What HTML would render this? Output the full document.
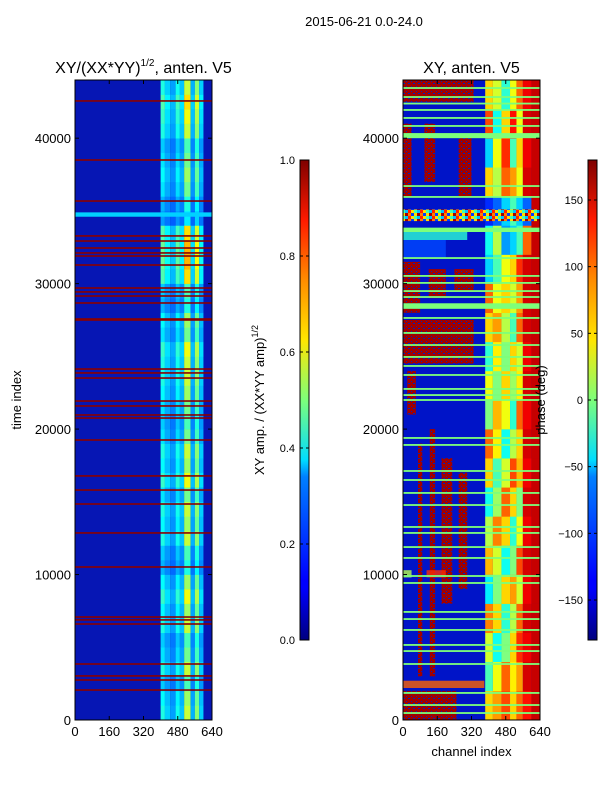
<!DOCTYPE html>
<html><head><meta charset="utf-8"><style>
body{margin:0;background:#fff;}
svg text{font-family:"Liberation Sans","DejaVu Sans",sans-serif;fill:#000;}
</style></head><body>
<svg id="fig" width="600" height="800" xmlns="http://www.w3.org/2000/svg">
<defs>
<linearGradient id="jetv" x1="0" y1="1" x2="0" y2="0">
<stop offset="0" stop-color="#00007f"/><stop offset="0.11" stop-color="#0000ff"/><stop offset="0.125" stop-color="#0000ff"/>
<stop offset="0.34" stop-color="#0080ff"/><stop offset="0.375" stop-color="#00ddff"/><stop offset="0.5" stop-color="#7dff7a"/>
<stop offset="0.625" stop-color="#ffe600"/><stop offset="0.75" stop-color="#ff8c00"/><stop offset="0.875" stop-color="#ff1a00"/><stop offset="1" stop-color="#7f0000"/>
</linearGradient>
<pattern id="noise" width="12" height="6" patternUnits="userSpaceOnUse">
<rect width="12" height="6" fill="#ffdd00"/><rect x="0" y="0" width="3" height="3" fill="#ff2000"/><rect x="3" y="3" width="3" height="3" fill="#0040ff"/>
<rect x="6" y="0" width="3" height="3" fill="#40ffb0"/><rect x="9" y="3" width="3" height="3" fill="#a00000"/><rect x="9" y="0" width="3" height="3" fill="#00c0ff"/><rect x="0" y="3" width="3" height="3" fill="#ff8000"/>
</pattern>
<pattern id="speck" width="5" height="5" patternUnits="userSpaceOnUse">
<rect width="5" height="5" fill="#a00000"/><rect x="1" y="1" width="1" height="1" fill="#0020c0"/><rect x="3" y="3" width="2" height="1" fill="#0020c0"/>
</pattern>
</defs>
<text x="364" y="26" font-size="13" text-anchor="middle">2015-06-21 0.0-24.0</text>
<g id="left"></g>
<g id="right"></g>
<g id="axes"></g>
</svg>
<script>
const NS="http://www.w3.org/2000/svg";
// ---- data ----
const leftColEdges=[400,420,445,470,490,510,540,560,580,600];
const leftColVals=[0.42,0.3,0.22,0.4,0.28,0.7,0.25,0.6,0.3];
const leftRowMul=[1.0,0.9,0.7,1.0,0.8,0.7,1.0,0.9,1.1,0.9,0.6,0.7,1.0,0.9,1.0,0.8,1.1,0.9,1.0,0.8,0.7,0.8,0.9,1.0,1.0,1.1,0.8,0.9,0.6,0.7,1.2,1.3,1.3,1.2,0.5,0.6,0.8,0.9,0.8,0.7,1.0,1.1,1.2,1.0];
const leftRedLines=[42560,38500,35680,33280,32930,32450,32110,31900,31280,29700,29430,29150,28670,27570,27500,24130,23860,23510,21930,21590,20970,20760,19250,16780,15810,14850,12860,10520,7080,6880,6600,3850,3030,2750,2060];
const rightColEdges=[384,420,460,500,530,560,600];
const rightRows=[
[60,80,110,60,100,130],[-20,40,100,50,80,150],[30,-40,0,60,120,140],[90,60,-30,20,100,150],
[-50,0,60,80,30,140],[70,30,-40,0,110,150],[20,90,60,-30,40,140],[-40,10,100,60,0,150],
[60,-20,30,110,70,140],[100,50,-40,20,60,150],[0,70,40,-30,100,140],[40,0,60,10,50,150],
[-30,50,0,60,30,140],[60,80,20,-20,100,150],[100,40,60,30,80,150],[-60,-20,40,60,120,150],
[-40,20,-80,-60,-20,100],[-120,-100,-60,-20,-60,-100],[60,20,100,80,40,150],[-60,40,120,-20,60,140],
[110,-40,60,130,40,150],[60,30,-30,40,100,140]];
const rightPatches=[
[36000,41000,0,40,170],[37000,41000,100,150,170],[36000,40000,260,320,170],
[28000,31500,0,80,170],[29000,31000,120,200,170],[29500,31000,240,330,170],
[24500,27500,0,330,170],[21000,24000,20,60,170],[3000,19000,70,90,170],
[3000,20000,125,150,170],[8000,18000,180,230,170],[9000,17000,260,300,170],
[42500,44000,0,330,170],[0,2000,0,250,170],[2200,2700,0,380,100],
[9800,10300,0,40,20],[9800,10300,110,200,120],[33000,33800,0,300,-30],[31800,33000,0,200,-110]];
const rightGreenLines=[43450,42830,42380,41940,41390,40840,36710,35960,31760,30530,30050,29490,29080,28330,27640,26610,25780,24960,24340,23720,22760,22340,22000,19390,18910,17120,16500,15610,14780,13270,12860,11890,11140,9900,9420,7430,6940,6190,5160,4740,3850,1860,1030,480];
const rightGreenBands=[[40000,40350],[33550,33850],[28300,28650]];
const noiseBand=[34300,35100];
const xTicks=[0,160,320,480,640];
const yTicks=[0,10000,20000,30000,40000];
const cb1Ticks=[0.0,0.2,0.4,0.6,0.8,1.0];
const cb2Ticks=[-150,-100,-50,0,50,100,150];
// ---- helpers ----
function jet(v){v=Math.max(0,Math.min(1,v));
 const r=Math.max(0,Math.min(1,1.5-Math.abs(4*v-3))),g=Math.max(0,Math.min(1,1.5-Math.abs(4*v-2))),b=Math.max(0,Math.min(1,1.5-Math.abs(4*v-1)));
 return `rgb(${Math.round(r*255)},${Math.round(g*255)},${Math.round(b*255)})`;}
function el(tag,attrs,parent){const e=document.createElementNS(NS,tag);for(const k in attrs)e.setAttribute(k,attrs[k]);parent.appendChild(e);return e;}
const Y0=80,Y1=720,TMAX=44000,CMAX=640;
const yS=t=>Y1-t/TMAX*(Y1-Y0);
function xS(x0,x1){return c=>x0+c/CMAX*(x1-x0);}
const L=document.getElementById('left'),R=document.getElementById('right'),A=document.getElementById('axes');
const BG='rgb(6,22,180)';
// ---- left heatmap ----
{const xs=xS(75,212);
 let r=el('rect',{x:75,y:Y0,width:137,height:640,fill:BG},L);
 
 
 leftRowMul.forEach((m,i)=>{leftColVals.forEach((v,j)=>{
  const c=el('rect',{x:xs(leftColEdges[j]),y:yS((i+1)*1000),width:xs(leftColEdges[j+1])-xs(leftColEdges[j]),height:yS(i*1000)-yS((i+1)*1000)+0.3,fill:jet(0.15+v*m*0.6)},L);
  
  });});
 let b=el('rect',{x:75,y:yS(34900),width:137,height:yS(34600)-yS(34900),fill:jet(0.33)},L);
 
 
 leftRedLines.forEach(t=>{const l=el('rect',{x:75,y:yS(t)-0.8,width:137,height:1.6,fill:'#8b0000'},L);
  
  });
}
// ---- right heatmap ----
{const xs=xS(403,540);const pv=p=>(p+180)/360;
 let r=el('rect',{x:403,y:Y0,width:137,height:640,fill:'rgb(0,20,200)'},R);
 
 
 rightRows.forEach((row,i)=>{row.forEach((v,j)=>{
  const c=el('rect',{x:xs(rightColEdges[j]),y:yS((i+1)*2000),width:xs(rightColEdges[j+1])-xs(rightColEdges[j]),height:yS(i*2000)-yS((i+1)*2000)+0.3,fill:jet(pv(v))},R);
  
  });
  const e=el('rect',{x:xs(600),y:yS((i+1)*2000),width:xs(640)-xs(600),height:yS(i*2000)-yS((i+1)*2000)+0.3,fill:jet(pv(155))},R);
  
  });
 rightPatches.forEach(p=>{const c=el('rect',{x:xs(p[2]),y:yS(p[1]),width:xs(p[3])-xs(p[2]),height:yS(p[0])-yS(p[1]),fill:(p[4]>=165?'url(#speck)':jet(pv(p[4]))),opacity:(p[4]>=165?1:0.8)},R);
  
  });
 let n=el('rect',{x:403,y:yS(noiseBand[1]),width:137,height:yS(noiseBand[0])-yS(noiseBand[1]),fill:'url(#noise)'},R);
 
 
 rightGreenLines.forEach(t=>{const l=el('rect',{x:403,y:yS(t)-0.9,width:137,height:1.8,fill:'#7dff7a'},R);
  
  });
 rightGreenBands.forEach(b=>{const l=el('rect',{x:403,y:yS(b[1]),width:137,height:yS(b[0])-yS(b[1]),fill:'#7dff7a'},R);
  
  });
}
// ---- axes ----
function axes(x0,x1,title,showYLabel,showXLabel,name){
 const g=el('g',{},A);
 
 
 el('rect',{x:x0,y:Y0,width:x1-x0,height:Y1-Y0,fill:'none',stroke:'#000','stroke-width':1},g);
 const xs=xS(x0,x1);
 xTicks.forEach(t=>{const x=xs(t);el('line',{x1:x,x2:x,y1:Y1,y2:Y1-4,stroke:'#000'},g);el('line',{x1:x,x2:x,y1:Y0,y2:Y0+4,stroke:'#000'},g);
  const tx=el('text',{x:x,y:Y1+16,'font-size':13,'text-anchor':'middle'},g);tx.textContent=t;
  
  });
 yTicks.forEach(t=>{const y=yS(t);el('line',{x1:x0,x2:x0+4,y1:y,y2:y,stroke:'#000'},g);el('line',{x1:x1,x2:x1-4,y1:y,y2:y,stroke:'#000'},g);
  const tx=el('text',{x:x0-4,y:y+5,'font-size':13,'text-anchor':'end'},g);tx.textContent=t;
  
  });
 const tt=el('text',{x:(x0+x1)/2,y:73,'font-size':16,'text-anchor':'middle'},g);tt.innerHTML=title;
 
 
 if(showYLabel){const t=el('text',{x:0,y:0,'font-size':13,'text-anchor':'middle',transform:`translate(21,400) rotate(-90)`},g);t.textContent='time index';
  
  }
 if(showXLabel){const t=el('text',{x:(x0+x1)/2+0,y:756,'font-size':13,'text-anchor':'middle'},g);t.textContent='channel index';
  
  }
}
axes(75,212,'XY/(XX*YY)<tspan font-size="10" dy="-7">1/2</tspan><tspan dy="7">, anten. V5</tspan>',true,false,'amplitude-axes');
axes(403,540,'XY, anten. V5',false,true,'phase-axes');
function colorbar(x,ticks,lo,hi,label,lx,name){
 const g=el('g',{},A);
 
 
 el('rect',{x:x,y:160,width:9,height:480,fill:'url(#jetv)',stroke:'#000','stroke-width':1},g);
 ticks.forEach(t=>{const y=640-(t-lo)/(hi-lo)*480;
  el('line',{x1:x,x2:x+3,y1:y,y2:y,stroke:'#000'},g);el('line',{x1:x+9,x2:x+6,y1:y,y2:y,stroke:'#000'},g);
  const tx=el('text',{x:x-5,y:y+4,'font-size':11,'text-anchor':'end'},g);tx.textContent=(lo===0?t.toFixed(1):String(t).replace('-','\u2212'));
  
  });
 const t=el('text',{x:0,y:0,'font-size':13,'text-anchor':'middle',transform:`translate(${lx},400) rotate(-90)`},g);t.innerHTML=label;
 
 
}
colorbar(300,cb1Ticks,0,1,'XY amp. / (XX*YY amp)<tspan font-size="9" dy="-6">1/2</tspan>',264,'amplitude-colorbar');
colorbar(588,cb2Ticks,-180,180,'phase (deg)',545,'phase-colorbar');
</script>
</body></html>
